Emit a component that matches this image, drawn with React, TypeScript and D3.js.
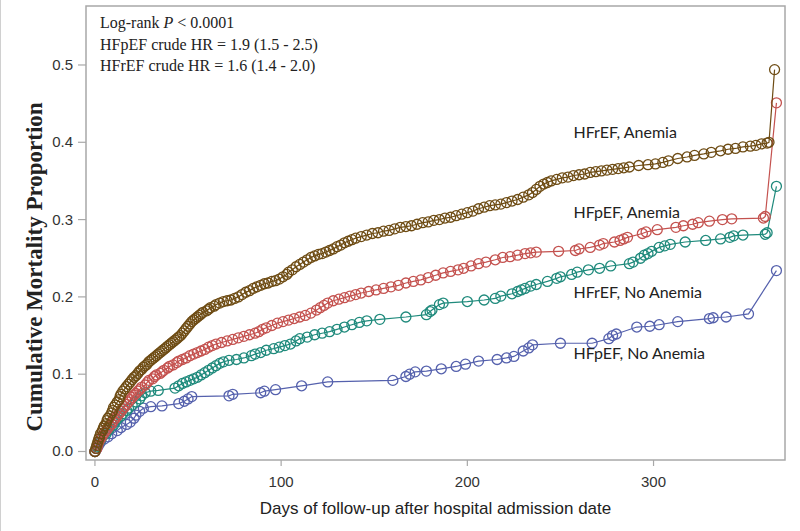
import React from "react";
import * as d3 from "d3";

// ---- Data (day, cumulative mortality proportion) ----
const hfrefAnemia: [number, number][] = [
  [0, 0], [0.5, 0.004], [1, 0.008], [1.5, 0.012], [2, 0.016], [2.5, 0.019], [3, 0.023], [4, 0.027], [4.5, 0.03],
  [5, 0.033], [6, 0.036], [6.5, 0.04], [7, 0.043], [8, 0.046], [9, 0.05], [9.5, 0.053], [10, 0.057], [11, 0.06],
  [12, 0.064], [13, 0.067], [13.5, 0.071], [14, 0.074], [15, 0.078], [16, 0.081], [17, 0.084], [18, 0.087],
  [19, 0.09], [20, 0.093], [21, 0.096], [22, 0.098], [23, 0.101], [24, 0.104], [25, 0.106], [26, 0.109],
  [27, 0.111], [28, 0.113], [29, 0.116], [30, 0.118], [31, 0.12], [32, 0.122], [33, 0.124], [34, 0.126],
  [35, 0.128], [36, 0.13], [37, 0.132], [38, 0.134], [39, 0.136], [40, 0.138], [41, 0.14], [42, 0.142],
  [43, 0.144], [44, 0.146], [45, 0.148], [46, 0.15], [47, 0.153], [48, 0.156], [49, 0.159], [50, 0.162],
  [51, 0.165], [52, 0.168], [53, 0.17], [54, 0.172], [55, 0.174], [56, 0.176], [57, 0.178], [58, 0.18],
  [60, 0.182], [61, 0.184], [62, 0.186], [64, 0.188], [65, 0.19], [67, 0.192], [69, 0.194], [71, 0.195],
  [73, 0.196], [75, 0.198], [77, 0.2], [79, 0.203], [81, 0.206], [83, 0.208], [85, 0.211], [87, 0.213],
  [89, 0.215], [91, 0.217], [93, 0.218], [95, 0.22], [97, 0.221], [99, 0.223], [101, 0.226], [103, 0.229],
  [104, 0.232], [106, 0.235], [108, 0.239], [110, 0.242], [112, 0.245], [114, 0.248], [116, 0.251],
  [118, 0.253], [120, 0.255], [122, 0.256], [124, 0.258], [126, 0.26], [128, 0.262], [130, 0.265],
  [132, 0.267], [134, 0.27], [136, 0.272], [138, 0.274], [140, 0.276], [143, 0.278], [146, 0.28],
  [149, 0.282], [152, 0.283], [155, 0.285], [158, 0.286], [161, 0.288], [164, 0.29], [167, 0.291],
  [170, 0.292], [173, 0.294], [176, 0.296], [179, 0.297], [182, 0.299], [185, 0.3], [188, 0.302],
  [191, 0.303], [194, 0.305], [197, 0.307], [200, 0.309], [203, 0.311], [206, 0.314], [209, 0.316],
  [212, 0.318], [215, 0.319], [218, 0.32], [221, 0.322], [224, 0.324], [227, 0.326], [230, 0.329],
  [233, 0.332], [235, 0.335], [237, 0.339], [239, 0.343], [241, 0.346], [243, 0.348], [245, 0.35],
  [248, 0.352], [251, 0.354], [254, 0.355], [257, 0.357], [260, 0.358], [263, 0.359], [266, 0.361],
  [269, 0.362], [272, 0.363], [275, 0.364], [278, 0.365], [281, 0.366], [284, 0.367], [287, 0.368],
  [292, 0.37], [297, 0.371], [301, 0.372], [305, 0.374], [308, 0.376], [313, 0.379], [318, 0.381],
  [322, 0.383], [327, 0.385], [331, 0.387], [336, 0.389], [340, 0.391], [344, 0.392], [348, 0.394],
  [352, 0.395], [355, 0.396], [358, 0.398], [361, 0.399], [362, 0.4], [365, 0.494],
];

const hfpefAnemia: [number, number][] = [
  [0, 0], [1, 0.004], [1.5, 0.008], [2, 0.012], [3, 0.016], [4, 0.02], [5, 0.024], [6, 0.027], [7, 0.03],
  [8, 0.033], [9, 0.036], [10, 0.04], [11, 0.043], [12, 0.046], [13, 0.049], [14, 0.052], [15, 0.055],
  [16, 0.058], [17, 0.061], [18, 0.064], [19, 0.067], [20, 0.07], [21, 0.073], [22, 0.075], [23, 0.078],
  [24, 0.08], [25, 0.083], [27, 0.086], [28, 0.089], [29, 0.092], [31, 0.094], [32, 0.097], [33, 0.099],
  [35, 0.101], [36, 0.103], [37, 0.105], [39, 0.108], [40, 0.11], [42, 0.112], [44, 0.115], [45, 0.117],
  [47, 0.119], [49, 0.121], [51, 0.124], [53, 0.126], [55, 0.128], [57, 0.13], [59, 0.132], [61, 0.135],
  [63, 0.137], [65, 0.139], [68, 0.141], [71, 0.143], [74, 0.145], [77, 0.147], [80, 0.149], [83, 0.151],
  [86, 0.153], [88, 0.155], [90, 0.158], [92, 0.16], [95, 0.163], [98, 0.166], [101, 0.168], [104, 0.17],
  [107, 0.172], [110, 0.174], [113, 0.176], [116, 0.179], [119, 0.183], [121, 0.186], [123, 0.189],
  [125, 0.192], [128, 0.195], [131, 0.197], [134, 0.199], [137, 0.201], [140, 0.203], [143, 0.205],
  [147, 0.207], [151, 0.209], [155, 0.211], [159, 0.213], [163, 0.215], [167, 0.218], [171, 0.22],
  [175, 0.222], [179, 0.225], [183, 0.228], [187, 0.231], [191, 0.233], [195, 0.235], [198, 0.237],
  [202, 0.24], [206, 0.243], [210, 0.245], [215, 0.248], [219, 0.251], [223, 0.252], [227, 0.254],
  [231, 0.256], [234, 0.257], [237, 0.258], [249, 0.259], [258, 0.26], [260, 0.262], [266, 0.264],
  [271, 0.267], [273, 0.269], [279, 0.271], [282, 0.273], [284, 0.275], [286, 0.277], [294, 0.282],
  [296, 0.284], [302, 0.287], [312, 0.29], [316, 0.292], [321, 0.294], [324, 0.296], [330, 0.298],
  [337, 0.3], [342, 0.301], [359, 0.302], [360, 0.304], [366, 0.451],
];

const hfrefNoAnemia: [number, number][] = [
  [0, 0], [1, 0.006], [2, 0.011], [3, 0.015], [4, 0.019], [6, 0.023], [7, 0.027], [8, 0.03], [10, 0.034],
  [11, 0.038], [12, 0.042], [14, 0.046], [15, 0.049], [17, 0.053], [18, 0.056], [20, 0.06], [22, 0.064],
  [24, 0.068], [25, 0.072], [27, 0.076], [30, 0.078], [34, 0.079], [43, 0.082], [45, 0.085], [47, 0.088],
  [49, 0.09], [51, 0.092], [53, 0.094], [55, 0.096], [57, 0.099], [59, 0.102], [61, 0.105], [63, 0.108],
  [65, 0.111], [67, 0.114], [69, 0.116], [72, 0.118], [76, 0.119], [80, 0.121], [84, 0.124], [86, 0.126],
  [89, 0.128], [92, 0.131], [96, 0.133], [99, 0.135], [102, 0.137], [105, 0.139], [108, 0.143],
  [110, 0.146], [114, 0.148], [118, 0.151], [122, 0.153], [126, 0.155], [130, 0.158], [134, 0.161],
  [138, 0.164], [142, 0.167], [146, 0.169], [153, 0.171], [167, 0.174], [178, 0.177], [180, 0.181],
  [181, 0.183], [185, 0.19], [187, 0.192], [200, 0.194], [209, 0.196], [215, 0.198], [218, 0.201],
  [224, 0.204], [227, 0.207], [229, 0.209], [231, 0.211], [234, 0.214], [237, 0.216], [243, 0.22],
  [248, 0.224], [250, 0.226], [256, 0.229], [259, 0.232], [265, 0.235], [271, 0.237], [277, 0.24],
  [287, 0.243], [289, 0.245], [293, 0.25], [295, 0.254], [297, 0.256], [299, 0.259], [303, 0.264],
  [306, 0.266], [309, 0.268], [317, 0.271], [328, 0.273], [336, 0.275], [341, 0.277], [343, 0.279],
  [348, 0.28], [360, 0.281], [361, 0.283], [366, 0.343],
];

const hfpefNoAnemia: [number, number][] = [
  [0, 0], [1, 0.004], [2, 0.008], [3, 0.012], [5, 0.016], [7, 0.019], [9, 0.023], [12, 0.027], [14, 0.031],
  [17, 0.035], [19, 0.038], [21, 0.043], [22, 0.047], [24, 0.052], [26, 0.056], [30, 0.058], [36, 0.059],
  [45, 0.062], [48, 0.065], [50, 0.068], [52, 0.071], [72, 0.072], [74, 0.074], [89, 0.076], [91, 0.078],
  [97, 0.08], [111, 0.085], [125, 0.09], [160, 0.092], [167, 0.097], [169, 0.1], [172, 0.103],
  [178, 0.104], [186, 0.107], [194, 0.11], [199, 0.113], [206, 0.117], [216, 0.119], [221, 0.121],
  [225, 0.123], [230, 0.13], [233, 0.134], [235, 0.138], [250, 0.14], [267, 0.14], [276, 0.146],
  [278, 0.15], [280, 0.152], [291, 0.161], [298, 0.162], [303, 0.164], [313, 0.168], [330, 0.172],
  [332, 0.173], [339, 0.174], [351, 0.178], [366, 0.234],
];

const seriesNames = ["HFpEF, No Anemia", "HFrEF, No Anemia", "HFpEF, Anemia", "HFrEF, Anemia"];
const seriesColors = ["#5561ad", "#1f8a7c", "#c4524f", "#6e4c14"];
const seriesData = [hfpefNoAnemia, hfrefNoAnemia, hfpefAnemia, hfrefAnemia];
const labelAnchors: [number, number][] = [[257, 0.125], [257, 0.204], [257, 0.307], [257, 0.411]];

const xTicks = [0, 100, 200, 300];
const yTicks = [0, 0.1, 0.2, 0.3, 0.4, 0.5];

const annotationLines = ["HFpEF crude HR = 1.9 (1.5 - 2.5)", "HFrEF crude HR = 1.6 (1.4 - 2.0)"];

export default function App() {
  const W = 800, H = 531;
  const left = 86, right = 785, top = 6, bottom = 460;
  const x = d3.scaleLinear().domain([-4.8, 370.6]).range([left, right]);
  const y = d3.scaleLinear().domain([-0.011, 0.5763]).range([bottom, top]);
  const line = d3.line<[number, number]>().x((d) => x(d[0])).y((d) => y(d[1]));
  const sans = "'Liberation Sans', Arial, sans-serif";
  const serif = "'Liberation Serif', 'Times New Roman', serif";
  const axisColor = "#a8a8a8";

  return (
    <svg width={W} height={H} style={{ position: "absolute", left: 0, top: 0, background: "#fff" }}>
      <rect x={0} y={0} width={W} height={H} fill="#fff" />
      <line x1={0.5} y1={0} x2={0.5} y2={H} stroke="#d0d0d0" />
      {/* plot frame */}
      <rect x={left} y={top} width={right - left} height={bottom - top} fill="none" stroke={axisColor} strokeWidth={1.5} />
      {/* y ticks */}
      {yTicks.map((t) => (
        <g key={"y" + t}>
          <line x1={left - 8} x2={left} y1={y(t)} y2={y(t)} stroke={axisColor} strokeWidth={1.2} />
          <text x={left - 13} y={y(t) + 5} textAnchor="end" fontFamily={sans} fontSize={15} fill="#333">
            {d3.format(".1f")(t)}
          </text>
        </g>
      ))}
      {/* x ticks */}
      {xTicks.map((t) => (
        <g key={"x" + t}>
          <line x1={x(t)} x2={x(t)} y1={bottom} y2={bottom + 6} stroke={axisColor} strokeWidth={1.2} />
          <text x={x(t)} y={bottom + 27} textAnchor="middle" fontFamily={sans} fontSize={15} fill="#333">
            {t}
          </text>
        </g>
      ))}
      <text x={(left + right) / 2} y={514} textAnchor="middle" fontFamily={sans} fontSize={17} fill="#222">
        Days of follow-up after hospital admission date
      </text>
      <text
        transform={`translate(42, 267) rotate(-90)`}
        textAnchor="middle"
        fontFamily={serif}
        fontWeight="bold"
        fontSize={23}
        fill="#222"
      >
        Cumulative Mortality Proportion
      </text>
      {/* annotation */}
      <g fontFamily={serif} fontSize={16} fill="#222">
        <text x={100} y={28}>
          Log-rank <tspan fontStyle="italic">P</tspan> &lt; 0.0001
        </text>
        {annotationLines.map((s, i) => (
          <text key={s} x={100} y={50 + i * 21}>
            {s}
          </text>
        ))}
      </g>
      {/* series */}
      {seriesData.map((data, i) => (
        <g key={seriesNames[i]}>
          <path d={line(data) || ""} fill="none" stroke={seriesColors[i]} strokeWidth={1.2} />
          {data.map((d, j) => (
            <circle key={j} cx={x(d[0])} cy={y(d[1])} r={5} fill="none" stroke={seriesColors[i]} strokeWidth={1.3} />
          ))}
        </g>
      ))}
      {/* series labels */}
      {seriesNames.map((n, i) => (
        <text
          key={"l" + n}
          x={x(labelAnchors[i][0])}
          y={y(labelAnchors[i][1])}
          fontFamily="Lato, 'Open Sans', sans-serif"
          fontSize={16}
          fill="#222"
          dominantBaseline="middle"
        >
          {n}
        </text>
      ))}
    </svg>
  );
}
